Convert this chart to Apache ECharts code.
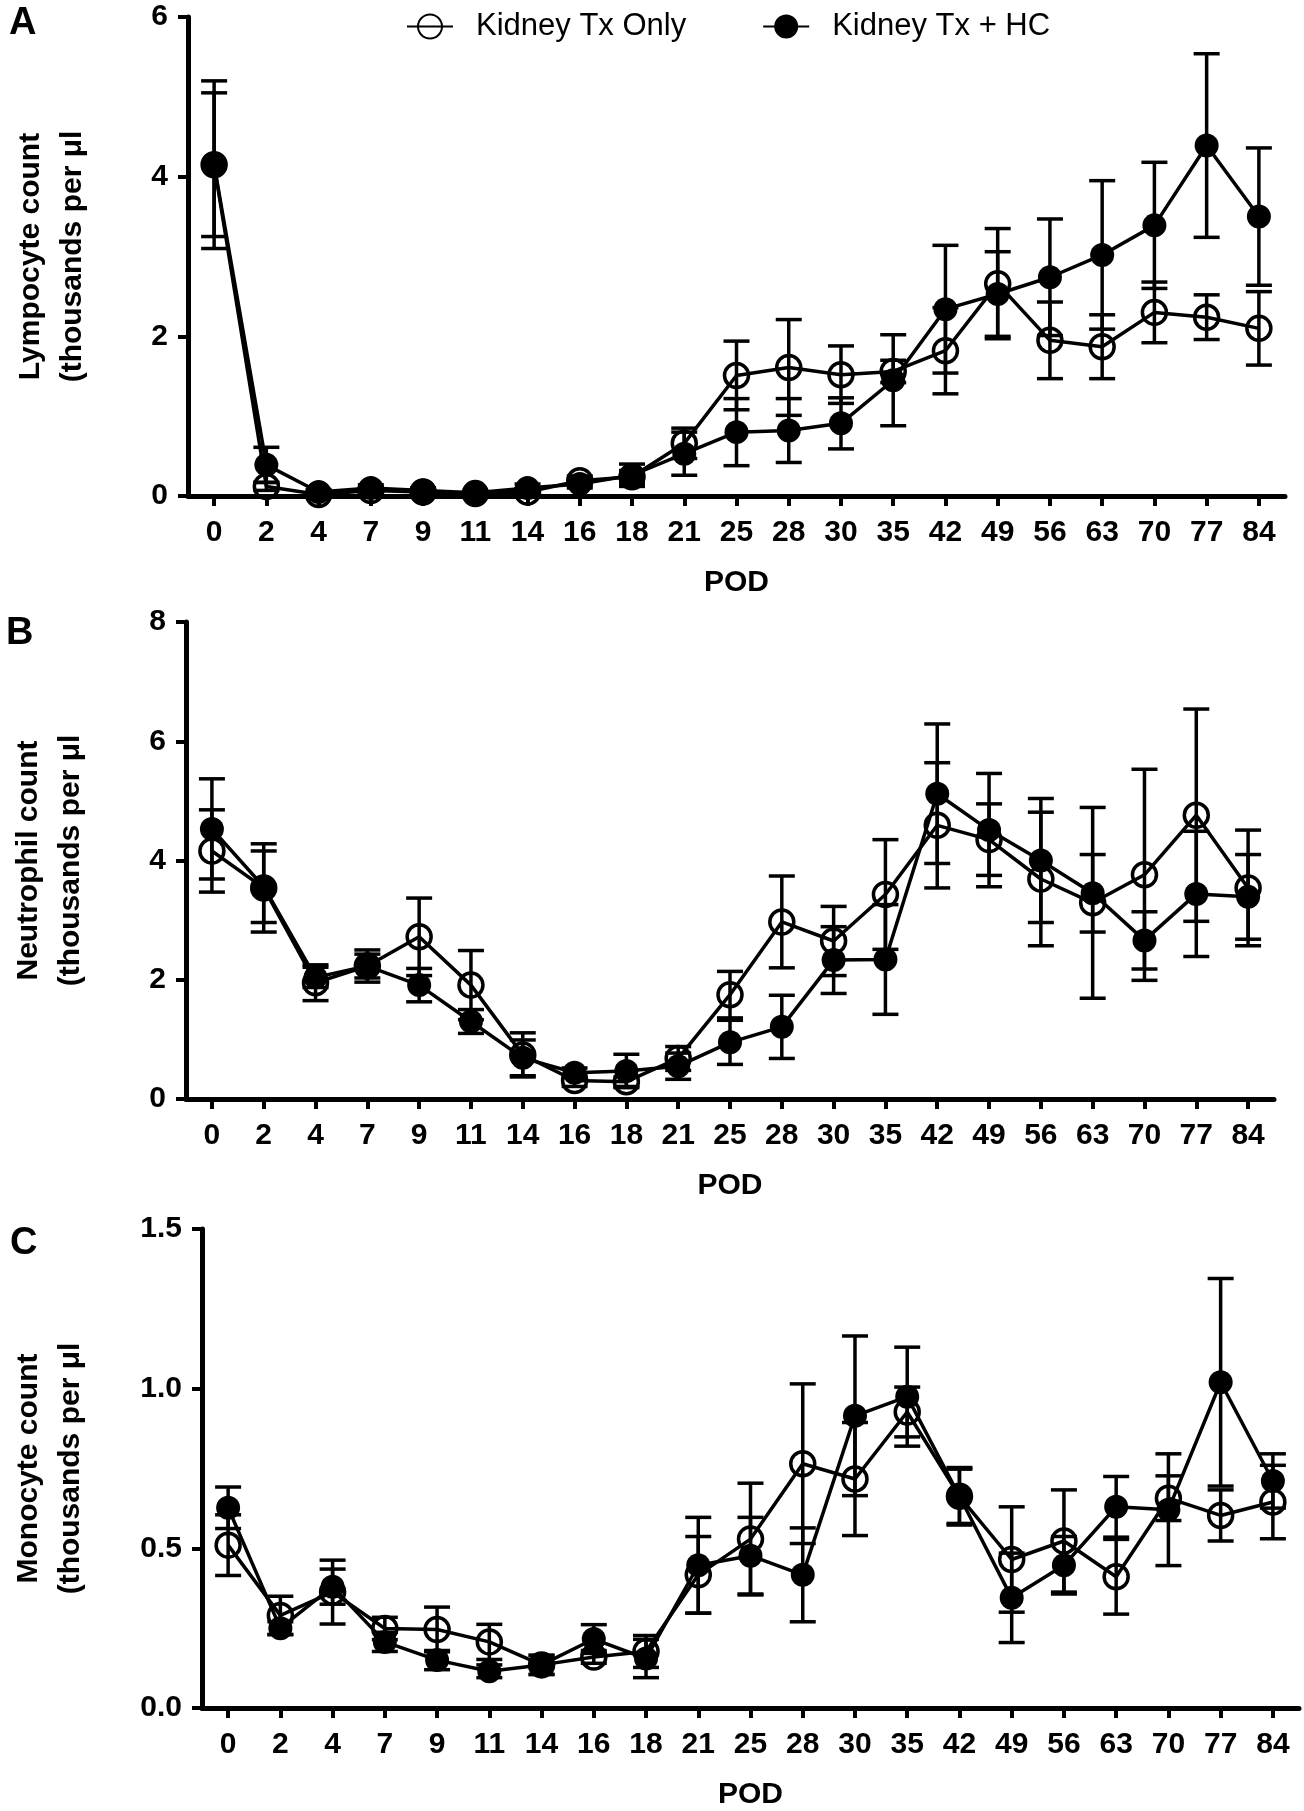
<!DOCTYPE html>
<html>
<head>
<meta charset="utf-8">
<script src="https://cdn.jsdelivr.net/npm/echarts@6/dist/echarts.min.js"></script>
<style>
  html, body { margin: 0; padding: 0; background: #fff; }
  #main { width: 1304px; height: 1811px; }
</style>
</head>
<body>
<div id="main"></div>
<script>
var pod = ['0', '2', '4', '7', '9', '11', '14', '16', '18', '21', '25', '28', '30', '35', '42', '49', '56', '63', '70', '77', '84'];

// Lymphocyte (A)
var lymphOnly = [4.15, 0.12, 0.02, 0.07, 0.05, 0.03, 0.05, 0.19, 0.24, 0.66, 1.51, 1.61, 1.52, 1.56, 1.82, 2.66, 1.95, 1.87, 2.30, 2.24, 2.10];
var lymphOnlyErr = [0.9, 0.05, 0.02, 0.03, 0.02, 0.02, 0.04, 0.06, 0.08, 0.19, 0.43, 0.60, 0.36, 0.14, 0.54, 0.69, 0.48, 0.40, 0.38, 0.28, 0.46];
var lymphHC = [4.15, 0.39, 0.05, 0.10, 0.07, 0.04, 0.10, 0.15, 0.26, 0.53, 0.80, 0.82, 0.91, 1.45, 2.34, 2.53, 2.74, 3.02, 3.39, 4.39, 3.50];
var lymphHCErr = [1.05, 0.22, 0.03, 0.04, 0.03, 0.02, 0.05, 0.05, 0.14, 0.27, 0.42, 0.40, 0.32, 0.57, 0.80, 0.53, 0.73, 0.93, 0.79, 1.15, 0.86];

// Neutrophil (B)
var neutOnly = [4.16, 3.54, 1.95, 2.23, 2.72, 1.91, 0.74, 0.31, 0.29, 0.68, 1.75, 2.97, 2.65, 3.43, 4.59, 4.35, 3.69, 3.29, 3.76, 4.76, 3.54];
var neutOnlyErr = [0.69, 0.74, 0.30, 0.27, 0.65, 0.58, 0.37, 0.10, 0.08, 0.20, 0.39, 0.77, 0.58, 0.92, 1.05, 0.60, 1.12, 1.60, 1.77, 1.78, 0.97];
var neutHC = [4.53, 3.56, 2.04, 2.23, 1.91, 1.30, 0.69, 0.44, 0.47, 0.55, 0.95, 1.21, 2.33, 2.34, 5.12, 4.51, 4.00, 3.45, 2.66, 3.44, 3.39];
var neutHCErr = [0.84, 0.60, 0.17, 0.20, 0.28, 0.20, 0.30, 0.08, 0.28, 0.22, 0.37, 0.53, 0.56, 0.92, 1.17, 0.95, 1.04, 0.65, 0.48, 1.05, 0.71];

// Monocyte (C)
var monoOnly = [0.51, 0.29, 0.363, 0.249, 0.246, 0.207, 0.135, 0.16, 0.177, 0.417, 0.529, 0.765, 0.717, 0.927, 0.663, 0.465, 0.523, 0.411, 0.657, 0.603, 0.645];
var monoOnlyErr = [0.095, 0.06, 0.10, 0.035, 0.07, 0.055, 0.03, 0.02, 0.05, 0.12, 0.175, 0.25, 0.177, 0.078, 0.085, 0.165, 0.16, 0.117, 0.07, 0.08, 0.115];
var monoHC = [0.627, 0.25, 0.38, 0.207, 0.15, 0.115, 0.135, 0.216, 0.155, 0.447, 0.477, 0.417, 0.915, 0.975, 0.663, 0.345, 0.447, 0.63, 0.621, 1.02, 0.711];
var monoHCErr = [0.065, 0.02, 0.055, 0.03, 0.03, 0.02, 0.03, 0.045, 0.06, 0.15, 0.12, 0.147, 0.25, 0.155, 0.09, 0.14, 0.09, 0.095, 0.175, 0.325, 0.085];

var nameOnly = 'Kidney Tx Only';
var nameHC = 'Kidney Tx + HC';
var font = 'Liberation Sans, Arial, sans-serif';

var myChart = echarts.init(document.getElementById('main'));

var errData = function (mean, err) {
    return mean.map(function (m, i) {
        return [i, Math.max(0, m - err[i]), m + err[i]];
    });
};

var renderErr = function (params, api) {
    var x = api.value(0);
    var lo = api.coord([x, api.value(1)]);
    var hi = api.coord([x, api.value(2)]);
    var w = 13;
    var style = { stroke: '#000', lineWidth: 3.5 };
    return {
        type: 'group',
        children: [
            { type: 'line', shape: { x1: hi[0], y1: hi[1], x2: lo[0], y2: lo[1] }, style: style },
            { type: 'line', shape: { x1: hi[0] - w, y1: hi[1], x2: hi[0] + w, y2: hi[1] }, style: style },
            { type: 'line', shape: { x1: lo[0] - w, y1: lo[1], x2: lo[0] + w, y2: lo[1] }, style: style }
        ]
    };
};

var panels = [
    { only: lymphOnly, onlyErr: lymphOnlyErr, hc: lymphHC, hcErr: lymphHCErr, max: 6, interval: 2,
      name: 'Lympocyte count\n(thousands per μl', gap: 94, digits: 0 },
    { only: neutOnly, onlyErr: neutOnlyErr, hc: neutHC, hcErr: neutHCErr, max: 8, interval: 2,
      name: 'Neutrophil count\n(thousands per μl', gap: 94, digits: 0 },
    { only: monoOnly, onlyErr: monoOnlyErr, hc: monoHC, hcErr: monoHCErr, max: 1.5, interval: 0.5,
      name: 'Monocyte count\n(thousands per μl', gap: 110, digits: 1 }
];

var grids = [
    { left: 188, right: 19, top: 17, height: 479 },
    { left: 177, right: 30, top: 622, height: 477 },
    { left: 199, right: 5, top: 1229, height: 479 }
];

var axisLine = { show: true, lineStyle: { color: '#000', width: 5 } };
var axisTick = { show: true, length: 10, lineStyle: { color: '#000', width: 4 } };
var labelStyle = { color: '#000', fontFamily: font, fontWeight: 'bold', fontSize: 30 };

var xAxes = [], yAxes = [], series = [];

panels.forEach(function (p, k) {
    xAxes.push({
        type: 'category',
        gridIndex: k,
        data: pod,
        boundaryGap: true,
        name: 'POD',
        nameLocation: 'middle',
        nameGap: 72,
        nameTextStyle: labelStyle,
        axisLine: axisLine,
        axisTick: { show: true, alignWithLabel: true, length: 10, lineStyle: { color: '#000', width: 4 } },
        axisLabel: Object.assign({ margin: 22, interval: 0 }, labelStyle),
        splitLine: { show: false }
    });
    yAxes.push({
        type: 'value',
        gridIndex: k,
        min: 0,
        max: p.max,
        interval: p.interval,
        name: p.name,
        nameLocation: 'middle',
        nameGap: p.gap,
        nameTextStyle: Object.assign({ lineHeight: 42 }, labelStyle),
        axisLine: axisLine,
        axisTick: axisTick,
        axisLabel: Object.assign({
            margin: 20,
            formatter: function (v) { return v.toFixed(p.digits); }
        }, labelStyle),
        splitLine: { show: false }
    });

    series.push({
        name: nameOnly,
        type: 'line',
        xAxisIndex: k,
        yAxisIndex: k,
        data: p.only,
        symbol: 'circle',
        symbolSize: 24,
        clip: false,
        z: 3,
        lineStyle: { color: '#000', width: 3.5 },
        itemStyle: { color: 'rgba(255,255,255,0)', borderColor: '#000', borderWidth: 3.5 },
        emphasis: { disabled: true }
    }, {
        name: nameOnly,
        type: 'custom',
        xAxisIndex: k,
        yAxisIndex: k,
        renderItem: renderErr,
        encode: { x: 0, y: [1, 2] },
        data: errData(p.only, p.onlyErr),
        z: 4
    }, {
        name: nameHC,
        type: 'line',
        xAxisIndex: k,
        yAxisIndex: k,
        data: p.hc,
        symbol: 'circle',
        symbolSize: 24,
        clip: false,
        z: 5,
        lineStyle: { color: '#000', width: 3.5 },
        itemStyle: { color: '#000', borderColor: '#000', borderWidth: 0 },
        emphasis: { disabled: true }
    }, {
        name: nameHC,
        type: 'custom',
        xAxisIndex: k,
        yAxisIndex: k,
        renderItem: renderErr,
        encode: { x: 0, y: [1, 2] },
        data: errData(p.hc, p.hcErr),
        z: 4
    });
});

var letterStyle = { color: '#000', fontFamily: font, fontWeight: 'bold', fontSize: 38 };

option = {
    backgroundColor: '#fff',
    animation: false,
    title: [
        { text: 'A', left: 4, top: 0, textStyle: letterStyle },
        { text: 'B', left: 1, top: 610, textStyle: letterStyle },
        { text: 'C', left: 5, top: 1220, textStyle: letterStyle }
    ],
    legend: {
        data: [nameOnly, nameHC],
        left: 401,
        top: 6,
        itemWidth: 46,
        itemHeight: 30,
        itemGap: 76,
        selectedMode: false,
        textStyle: { color: '#000', fontFamily: font, fontSize: 31, padding: [0, 0, 0, 18] }
    },
    grid: grids,
    xAxis: xAxes,
    yAxis: yAxes,
    series: series
};

myChart.setOption(option);
</script>
</body>
</html>
